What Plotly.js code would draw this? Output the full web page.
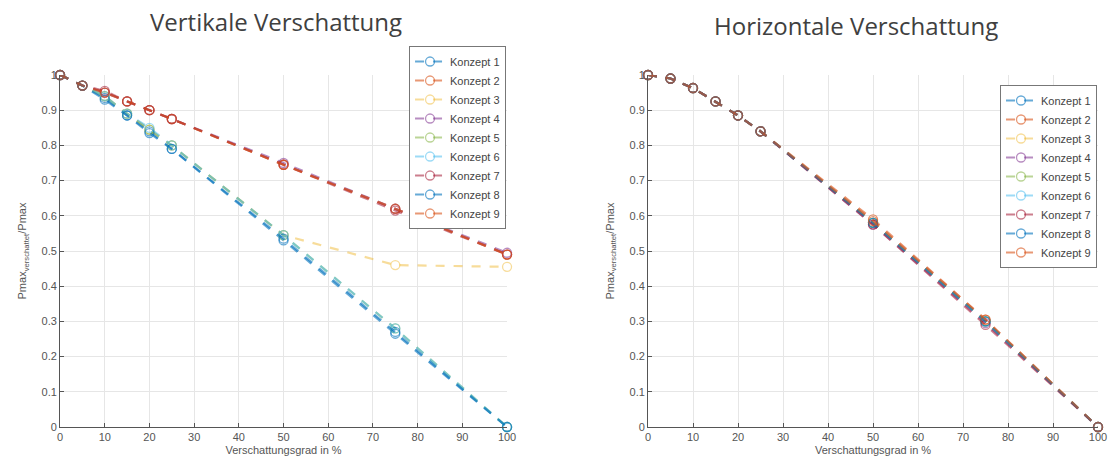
<!DOCTYPE html>
<html>
<head>
<meta charset="utf-8">
<script src="https://cdn.plot.ly/plotly-3.0.1.min.js"></script>
<style>html,body{margin:0;padding:0;background:#fff;}#chart{width:1110px;height:472px;}</style>
</head>
<body>
<div id="chart"></div>
<script>
const xVals = [0, 5, 10, 15, 20, 25, 50, 75, 100];
const seriesNames = ["Konzept 1","Konzept 2","Konzept 3","Konzept 4","Konzept 5","Konzept 6","Konzept 7","Konzept 8","Konzept 9"];
const seriesColors = ["rgba(0,114,189,0.6)","rgba(217,83,25,0.6)","rgba(237,177,32,0.45)","rgba(126,47,142,0.55)","rgba(119,172,48,0.5)","rgba(77,190,238,0.55)","rgba(162,20,47,0.55)","rgba(0,114,189,0.6)","rgba(217,83,25,0.6)"];

// Vertikale Verschattung
const vertK1 = [1, 0.97, 0.935, 0.885, 0.84, 0.79, 0.53, 0.265, 0];
const vertK2 = [1, 0.97, 0.95, 0.925, 0.90, 0.875, 0.745, 0.62, 0.49];
const vertK3 = [1, 0.97, 0.94, 0.89, 0.845, 0.80, 0.545, 0.46, 0.455];
const vertK4 = [1, 0.97, 0.95, 0.925, 0.90, 0.875, 0.75, 0.62, 0.495];
const vertK5 = [1, 0.97, 0.94, 0.89, 0.845, 0.80, 0.545, 0.28, 0];
const vertK6 = [1, 0.97, 0.94, 0.89, 0.85, 0.80, 0.545, 0.28, 0];
const vertK7 = [1, 0.97, 0.955, 0.925, 0.90, 0.875, 0.745, 0.615, 0.49];
const vertK8 = [1, 0.97, 0.93, 0.885, 0.835, 0.79, 0.535, 0.27, 0];
const vertK9 = [1, 0.97, 0.95, 0.925, 0.90, 0.875, 0.745, 0.62, 0.49];

// Horizontale Verschattung
const horK1 = [1, 0.99, 0.963, 0.925, 0.885, 0.84, 0.58, 0.30, 0];
const horK2 = [1, 0.99, 0.963, 0.925, 0.885, 0.84, 0.59, 0.305, 0];
const horK3 = [1, 0.99, 0.963, 0.925, 0.885, 0.84, 0.58, 0.30, 0];
const horK4 = [1, 0.99, 0.963, 0.925, 0.885, 0.84, 0.575, 0.295, 0];
const horK5 = [1, 0.99, 0.963, 0.925, 0.885, 0.84, 0.58, 0.30, 0];
const horK6 = [1, 0.99, 0.963, 0.925, 0.885, 0.84, 0.58, 0.30, 0];
const horK7 = [1, 0.99, 0.963, 0.925, 0.885, 0.84, 0.575, 0.29, 0];
const horK8 = [1, 0.99, 0.963, 0.925, 0.885, 0.84, 0.58, 0.30, 0];
const horK9 = [1, 0.99, 0.963, 0.925, 0.885, 0.84, 0.585, 0.305, 0];

const xTicks = [0,10,20,30,40,50,60,70,80,90,100];
const yTicks = [0,0.1,0.2,0.3,0.4,0.5,0.6,0.7,0.8,0.9,1];
const titleLeft = "Vertikale Verschattung";
const titleRight = "Horizontale Verschattung";
const xTitle = "Verschattungsgrad in %";
const yTitle = "Pmax<sub>verschattet</sub>/Pmax";

const vertData = [vertK1,vertK2,vertK3,vertK4,vertK5,vertK6,vertK7,vertK8,vertK9];
const horData = [horK1,horK2,horK3,horK4,horK5,horK6,horK7,horK8,horK9];

const traces = [];
function addSet(data, xa, ya, leg) {
  data.forEach((ys, i) => {
    traces.push({
      x: xVals, y: ys, xaxis: xa, yaxis: ya, legend: leg,
      name: seriesNames[i], type: 'scatter', mode: 'lines+markers',
      line: {color: seriesColors[i], width: 2.2, dash: 'dash'},
      marker: {symbol: 'circle-open', size: 9, color: seriesColors[i], line: {width: 1.3, color: seriesColors[i]}},
      cliponaxis: false
    });
  });
}
addSet(vertData, 'x', 'y', 'legend');
addSet(horData, 'x2', 'y2', 'legend2');

const tickFont = {family: 'Liberation Sans, Arial, sans-serif', size: 11, color: '#555'};
function xAxis(dom, anchor) {
  return {domain: dom, anchor: anchor, range: [0, 100], tickvals: xTicks, ticks: 'inside', ticklen: 4,
    tickcolor: '#555', showgrid: true, gridcolor: '#e6e6e6', zeroline: false, showline: true,
    linecolor: '#555', linewidth: 1, tickfont: tickFont,
    title: {text: xTitle, font: {family: 'Liberation Sans, Arial, sans-serif', size: 11, color: '#555'}, standoff: 4}};
}
function yAxis(dom, anchor) {
  return {domain: dom, anchor: anchor, range: [0, 1], tickvals: yTicks, ticks: 'inside', ticklen: 4,
    tickcolor: '#555', showgrid: true, gridcolor: '#e6e6e6', zeroline: false, showline: true,
    linecolor: '#555', linewidth: 1, tickfont: tickFont,
    title: {text: yTitle, font: {family: 'Liberation Sans, Arial, sans-serif', size: 11, color: '#555'}, standoff: 12}};
}

const legendBase = {bgcolor: '#fff', bordercolor: '#777', borderwidth: 1,
  font: {family: 'Liberation Sans, Arial, sans-serif', size: 11, color: '#444'},
  xanchor: 'left', yanchor: 'top', tracegroupgap: 0, itemwidth: 30};

const layout = {
  width: 1110, height: 472,
  margin: {l: 0, r: 0, t: 0, b: 0},
  paper_bgcolor: '#fff', plot_bgcolor: '#fff',
  showlegend: true,
  xaxis: xAxis([0.0541, 0.4568], 'y'),
  yaxis: yAxis([0.0953, 0.8411], 'x'),
  xaxis2: xAxis([0.5838, 0.9892], 'y2'),
  yaxis2: yAxis([0.0953, 0.8411], 'x2'),
  legend: Object.assign({}, legendBase, {x: 0.3685, y: 0.9025}),
  legend2: Object.assign({}, legendBase, {x: 0.9009, y: 0.8199}),
  annotations: [
    {text: titleLeft, xref: 'paper', yref: 'paper', x: 0.2485, y: 1 - 22/472, xanchor: 'center', yanchor: 'middle', showarrow: false,
     font: {family: 'Open Sans, Noto Sans, sans-serif', size: 24, color: '#404040'}},
    {text: titleRight, xref: 'paper', yref: 'paper', x: 0.771, y: 1 - 26/472, xanchor: 'center', yanchor: 'middle', showarrow: false,
     font: {family: 'Open Sans, Noto Sans, sans-serif', size: 24, color: '#404040'}}
  ]
};

Plotly.newPlot('chart', traces, layout, {displayModeBar: false, staticPlot: true});
</script>
</body>
</html>
